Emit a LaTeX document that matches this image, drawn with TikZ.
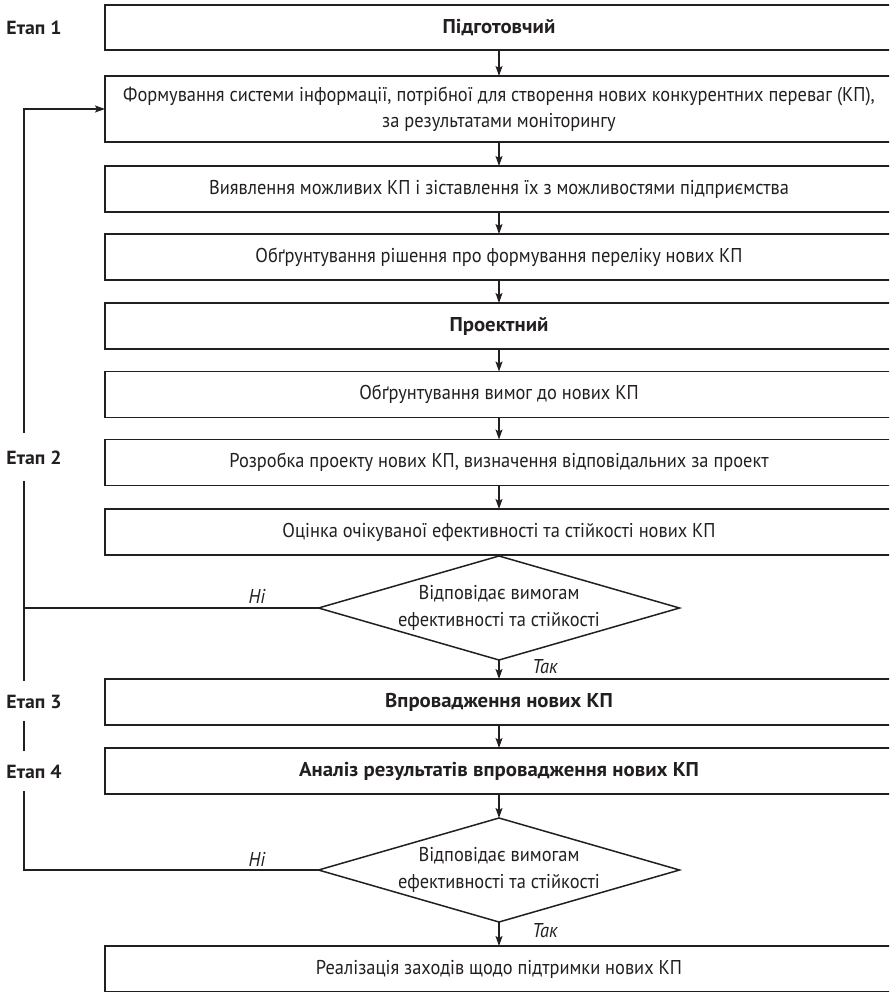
\documentclass[tikz,border=0pt]{standalone}
\usepackage{fontspec}
\setmainfont{PT Sans}[FakeStretch=0.92]
\newfontfamily\headfont{PT Sans}[FakeStretch=1.04]
\usetikzlibrary{arrows.meta,shapes.geometric}
\definecolor{ink}{HTML}{231F20}
\begin{document}
\begin{tikzpicture}[x=1pt,y=-1pt,
  font=\fontsize{20}{26}\selectfont,
  every node/.style={text=ink},
  stepbox/.style={draw=ink,line width=1.5pt,minimum width=788pt,minimum height=46pt,
    inner sep=0pt,align=center,outer sep=0pt},
  headbox/.style={stepbox,font=\fontsize{20}{26}\selectfont\headfont\bfseries},
  decide/.style={shape=diamond,draw=ink,line width=1.5pt,minimum width=361pt,
    minimum height=104pt,inner sep=0pt,outer sep=0pt},
  dtext/.style={align=center,inner sep=0pt,font=\fontsize{20}{27}\selectfont},
  stage/.style={fill=white,font=\fontsize{19}{24}\selectfont\headfont\bfseries,inner xsep=2pt,
    inner ysep=13pt,text height=14pt,text depth=0pt},
  lbl/.style={font=\fontsize{20}{25}\selectfont\itshape,inner sep=0pt},
  flow/.style={draw=ink,line width=1.3pt,-{Stealth[length=10pt,width=7pt,inset=2pt]}},
  link/.style={draw=ink,line width=1.3pt}]
\useasboundingbox (0,0) rectangle (889,992);
\clip (0,0) rectangle (889,992);

% main column of steps
\node[headbox,minimum height=45pt] (b1) at (499,27.5) {Підготовчий};
\node[stepbox,minimum height=66pt] (b2) at (499,109)
  {Формування системи інформації, потрібної для створення нових конкурентних переваг (КП),\\за результатами моніторингу};
\node[stepbox] (b3) at (499,189) {Виявлення можливих КП і зіставлення їх з можливостями підприємства};
\node[stepbox] (b4) at (499,257) {Обґрунтування рішення про формування переліку нових КП};
\node[headbox] (b5) at (499,326) {Проектний};
\node[stepbox] (b6) at (499,394.5) {Обґрунтування вимог до нових КП};
\node[stepbox] (b7) at (499,462.5) {Розробка проекту нових КП, визначення відповідальних за проект};
\node[stepbox] (b8) at (499,532) {Оцінка очікуваної ефективності та стійкості нових КП};
\node[decide] (d1) at (499,608) {};
\node[dtext] (t1) at (d1) {Відповідає вимогам\\ефективності та стійкості};
\node[headbox] (b9) at (499,702) {Впровадження нових КП};
\node[headbox] (b10) at (499,771) {Аналіз результатів впровадження нових КП};
\node[decide] (d2) at (499,870) {};
\node[dtext] (t2) at (d2) {Відповідає вимогам\\ефективності та стійкості};
\node[stepbox] (b11) at (499,969) {Реалізація заходів щодо підтримки нових КП};

% downward flow
\draw[flow] (b1) -- (b2);
\draw[flow] (b2) -- (b3);
\draw[flow] (b3) -- (b4);
\draw[flow] (b4) -- (b5);
\draw[flow] (b5) -- (b6);
\draw[flow] (b6) -- (b7);
\draw[flow] (b7) -- (b8);
\draw[flow] (d1.south) -- (b9);
\draw[flow] (b9) -- (b10);
\draw[flow] (b10) -- (d2.north);
\draw[flow] (d2.south) -- (b11);

% return loop on the left
\coordinate (lp) at (24,0);
\draw[link] (d1.west) -- (d1.west -| lp);
\draw[flow] (d2.west) -- (d2.west -| lp) |- (b2.west);

% stage labels over the loop line
\node[stage] (e1) at (34,27.5) {Етап 1};
\node[stage,inner ysep=17pt] (e2) at (34,457) {Етап 2};
\node[stage] (e3) at (34,701) {Етап 3};
\node[stage] (e4) at (34,771) {Етап 4};

% branch labels
\node[lbl] (n1) at (257,596) {Ні};
\node[lbl] (y1) at (545,667) {Так};
\node[lbl] (n2) at (257,859) {Ні};
\node[lbl] (y2) at (545,931) {Так};
\end{tikzpicture}
\end{document}
